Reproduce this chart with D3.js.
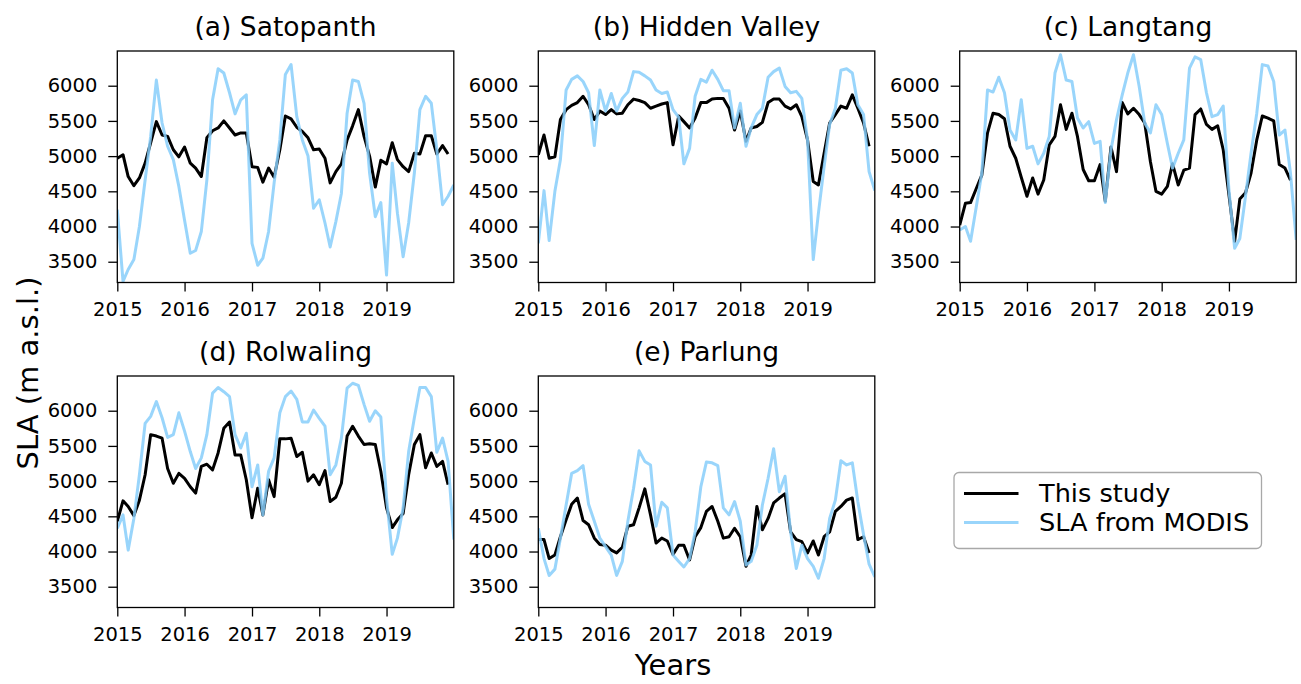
<!DOCTYPE html>
<html>
<head>
<meta charset="utf-8">
<script src="https://cdn.jsdelivr.net/npm/d3@7"></script>
<style>
    body { margin: 0; background: #fff; }
    svg { font-family: "DejaVu Sans", sans-serif; }
</style>
</head>
<body>
<div id="chart"></div>
<script>

// tick labels and names
const yearTicks = [2015, 2016, 2017, 2018, 2019];
const slaTicks = [3500, 4000, 4500, 5000, 5500, 6000];
const panelTitles = ["(a) Satopanth", "(b) Hidden Valley", "(c) Langtang", "(d) Rolwaling", "(e) Parlung"];
const seriesNames = ["This study", "SLA from MODIS"];

// monthly SLA (m a.s.l.), Jan 2015 - Dec 2019 (this study), Jan 2015 - Jan 2020 (MODIS)
const satopanthStudy = [4970, 5020, 4710, 4580, 4690, 4900, 5190, 5490, 5300, 5280, 5090, 4990,
    5130, 4900, 4830, 4710, 5260, 5360, 5400, 5500, 5400, 5300, 5330, 5330,
    4850, 4840, 4630, 4830, 4700, 5090, 5570, 5530, 5410, 5350, 5260, 5090,
    5100, 4970, 4620, 4780, 4890, 5230, 5430, 5660, 5280, 5000, 4560, 4940,
    4890, 5190, 4950, 4850, 4780, 5040, 5030, 5290, 5290, 5030, 5150, 5030];
const satopanthModis = [4240, 3220, 3390, 3530, 4000, 4660, 5280, 6080, 5470, 5140, 4950, 4570,
    4090, 3620, 3660, 3930, 4660, 5800, 6240, 6180, 5900, 5600, 5800, 5870,
    3760, 3450, 3550, 3930, 4620, 5230, 6160, 6300, 5560, 5230, 5000, 4260,
    4380, 4050, 3710, 4070, 4470, 5610, 6080, 6060, 5750, 4760, 4140, 4340,
    3310, 4900, 4190, 3570, 4050, 4760, 5660, 5850, 5750, 5090, 4310, 4430, 4590];

const hiddenValleyStudy = [5020, 5300, 4970, 4990, 5520, 5660, 5720, 5760, 5850, 5730, 5520, 5640,
    5590, 5660, 5600, 5610, 5730, 5810, 5790, 5760, 5680, 5710, 5740, 5760,
    5160, 5570, 5490, 5400, 5540, 5760, 5760, 5810, 5820, 5820, 5680, 5370,
    5640, 5210, 5400, 5420, 5480, 5760, 5810, 5810, 5710, 5670, 5730, 5560,
    5230, 4640, 4590, 5040, 5470, 5590, 5710, 5680, 5870, 5680, 5470, 5140];
const hiddenValleyModis = [3760, 4510, 3800, 4500, 4950, 5940, 6090, 6140, 6060, 5900, 5150, 5940,
    5640, 5890, 5640, 5820, 5910, 6200, 6190, 6140, 6080, 5940, 5890, 5910,
    5660, 5550, 4890, 5110, 5850, 6090, 6050, 6220, 6090, 5930, 5930, 5400,
    5750, 5140, 5400, 5590, 5680, 6120, 6200, 6250, 5990, 5900, 5920, 5820,
    5230, 3530, 4190, 4850, 5450, 5680, 6220, 6240, 6180, 5730, 5590, 4780, 4510];

const langtangStudy = [4020, 4330, 4340, 4540, 4730, 5330, 5610, 5590, 5530, 5140, 4970, 4700,
    4430, 4690, 4460, 4660, 5160, 5280, 5730, 5380, 5610, 5280, 4810, 4650,
    4650, 4880, 4360, 5130, 4780, 5760, 5600, 5680, 5590, 5470, 4920, 4500,
    4460, 4570, 4890, 4590, 4800, 4830, 5590, 5670, 5450, 5380, 5430, 5090,
    4450, 3790, 4390, 4480, 4760, 5230, 5570, 5540, 5500, 4880, 4830, 4660];
const langtangModis = [3950, 4000, 3790, 4280, 4760, 5940, 5910, 6120, 5900, 5370, 5230, 5800,
    5110, 5140, 4890, 5040, 5280, 6180, 6440, 6080, 6060, 5540, 5400, 5490,
    5180, 5210, 4340, 5090, 5520, 5870, 6180, 6440, 5990, 5470, 5330, 5730,
    5590, 5180, 4830, 5040, 5230, 6250, 6410, 6370, 5900, 5560, 5590, 5710,
    4520, 3690, 3830, 4430, 5040, 5610, 6300, 6280, 6060, 5300, 5370, 4760, 3810];

const rolwalingStudy = [4430, 4720, 4640, 4510, 4730, 5090, 5660, 5640, 5610, 5180, 4970, 5110,
    5040, 4920, 4830, 5210, 5240, 5160, 5400, 5750, 5840, 5370, 5370, 5020,
    4480, 4900, 4520, 5020, 4780, 5600, 5600, 5610, 5350, 5410, 5000, 5090,
    4950, 5150, 4710, 4770, 4970, 5640, 5780, 5640, 5520, 5530, 5520, 5140,
    4620, 4340, 4450, 4540, 5090, 5520, 5660, 5190, 5400, 5210, 5280, 4950];
const rolwalingModis = [4330, 4520, 4020, 4470, 5090, 5820, 5920, 6130, 5900, 5620, 5660, 5970,
    5710, 5420, 5180, 5330, 5660, 6250, 6330, 6270, 6200, 5660, 5470, 5680,
    4920, 5230, 4520, 5140, 5330, 5970, 6200, 6280, 6160, 5840, 5840, 6010,
    5890, 5780, 5090, 5230, 5610, 6320, 6390, 6360, 6090, 5850, 6000, 5910,
    4760, 3960, 4190, 4620, 5420, 5900, 6330, 6330, 6200, 5410, 5610, 5280, 4170];

const parlungStudy = [4170, 4170, 3900, 3950, 4210, 4450, 4670, 4760, 4440, 4380, 4190, 4100,
    4090, 4020, 3980, 4060, 4360, 4380, 4620, 4890, 4520, 4120, 4190, 4150,
    3960, 4090, 4090, 3880, 4210, 4340, 4570, 4640, 4430, 4190, 4210, 4330,
    4210, 3790, 3950, 4640, 4310, 4470, 4690, 4760, 4820, 4280, 4170, 4140,
    3980, 4150, 3950, 4210, 4280, 4570, 4640, 4730, 4760, 4170, 4210, 3980];
const parlungModis = [4330, 3900, 3660, 3750, 4190, 4660, 5110, 5150, 5220, 4670, 4430, 4190,
    4070, 3950, 3660, 3860, 4430, 4900, 5430, 5280, 5230, 4360, 4700, 4620,
    3950, 3860, 3780, 3900, 4280, 4920, 5270, 5260, 5220, 4620, 4520, 4710,
    4430, 3810, 3860, 4090, 4660, 5040, 5460, 4850, 5070, 4280, 3760, 4090,
    3900, 3790, 3620, 3900, 4470, 4730, 5290, 5230, 5260, 4710, 4240, 3820, 3640];

const studySeries = [satopanthStudy, hiddenValleyStudy, langtangStudy, rolwalingStudy, parlungStudy];
const modisSeries = [satopanthModis, hiddenValleyModis, langtangModis, rolwalingModis, parlungModis];

const studyDates = d3.timeMonth.range(new Date(2015, 0, 1), new Date(2020, 0, 1));
const modisDates = d3.timeMonth.range(new Date(2015, 0, 1), new Date(2020, 0, 2));

const colors = {study: "#000000", modis: "#87cefa"};


class SlaPanel {

    constructor(_svg, _index, _left, _top) {
        this.svg = _svg;
        this.index = _index;
        this.left = _left;
        this.top = _top;
        this.initVis();
    }

    initVis() {
        let vis = this;

        vis.width = 336.5;
        vis.height = 231.5;

        vis.g = vis.svg.append("g")
            .attr("transform", `translate(${vis.left}, ${vis.top})`);

        vis.x = d3.scaleTime()
            .domain([new Date(2015, 0, 1), new Date(2020, 0, 1)])
            .range([0, vis.width]);

        vis.y = d3.scaleLinear()
            .domain([3205, 6493])
            .range([vis.height, 0]);

        vis.g.append("clipPath")
            .attr("id", "clip" + vis.index)
            .append("rect")
            .attr("width", vis.width)
            .attr("height", vis.height);

        // axes
        let xAxis = d3.axisBottom(vis.x)
            .tickValues(yearTicks.map(y => new Date(y, 0, 1)))
            .tickFormat(d3.timeFormat("%Y"))
            .tickSize(9)
            .tickPadding(11);

        let yAxis = d3.axisLeft(vis.y)
            .tickValues(slaTicks)
            .tickFormat(d3.format("d"))
            .tickSize(9)
            .tickPadding(11);

        vis.g.append("g")
            .attr("transform", `translate(0, ${vis.height})`)
            .call(xAxis)
            .call(g => g.select(".domain").remove());

        vis.g.append("g")
            .call(yAxis)
            .call(g => g.select(".domain").remove());

        vis.g.selectAll("g").attr("font-size", null).attr("font-family", null);
        vis.g.selectAll(".tick line").attr("stroke", "#000").attr("stroke-width", 1.3);
        vis.g.selectAll(".tick text")
            .attr("fill", "#000")
            .style("font-size", "19.5px")
            .style("font-family", "'DejaVu Sans', sans-serif");

        vis.wrangleData();
    }

    wrangleData() {
        let vis = this;

        vis.study = studySeries[vis.index].map((v, i) => ({date: studyDates[i], value: v}));
        vis.modis = modisSeries[vis.index].map((v, i) => ({date: modisDates[i], value: v}));

        vis.updateVis();
    }

    updateVis() {
        let vis = this;

        let line = d3.line()
            .x(d => vis.x(d.date))
            .y(d => vis.y(d.value));

        let lines = vis.g.append("g")
            .attr("clip-path", `url(#clip${vis.index})`)
            .attr("fill", "none")
            .attr("stroke-width", 3)
            .attr("stroke-linejoin", "round");

        lines.append("path")
            .datum(vis.study)
            .attr("stroke", colors.study)
            .attr("d", line);

        lines.append("path")
            .datum(vis.modis)
            .attr("stroke", colors.modis)
            .attr("stroke-opacity", 0.85)
            .attr("d", line);

        // frame
        vis.g.append("rect")
            .attr("width", vis.width)
            .attr("height", vis.height)
            .attr("fill", "none")
            .attr("stroke", "#000")
            .attr("stroke-width", 1.3);

        vis.g.append("text")
            .attr("x", vis.width / 2)
            .attr("y", -15)
            .attr("text-anchor", "middle")
            .style("font-size", "26.5px")
            .text(panelTitles[vis.index]);
    }
}


let svg = d3.select("#chart").append("svg")
    .attr("width", 1301)
    .attr("height", 684);

let lefts = [117.3, 538.3, 959.7];
let tops = [51, 376];

panelTitles.forEach((t, i) => {
    new SlaPanel(svg, i, lefts[i % 3], tops[Math.floor(i / 3)]);
});

// axis labels
svg.append("text")
    .attr("x", 673)
    .attr("y", 675)
    .attr("text-anchor", "middle")
    .style("font-size", "29px")
    .text("Years");

svg.append("text")
    .attr("transform", "translate(38, 373) rotate(-90)")
    .attr("text-anchor", "middle")
    .style("font-size", "29px")
    .text("SLA (m a.s.l.)");

// legend
let legend = svg.append("g")
    .attr("transform", "translate(954, 472.5)");

legend.append("rect")
    .attr("width", 307.5)
    .attr("height", 76)
    .attr("rx", 5)
    .attr("fill", "#fff")
    .attr("stroke", "#a8a8a8")
    .attr("stroke-width", 1.3);

let legendItems = legend.selectAll(".item")
    .data(seriesNames)
    .join("g")
    .attr("class", "item")
    .attr("transform", (d, i) => `translate(0, ${21 + i * 29})`);

legendItems.append("line")
    .attr("x1", 10)
    .attr("x2", 64.5)
    .attr("stroke", (d, i) => i === 0 ? colors.study : colors.modis)
    .attr("stroke-opacity", (d, i) => i === 0 ? 1 : 0.85)
    .attr("stroke-width", 3);

legendItems.append("text")
    .attr("x", 85)
    .attr("y", 8.5)
    .style("font-size", "25.6px")
    .text(d => d);

</script>
</body>
</html>
